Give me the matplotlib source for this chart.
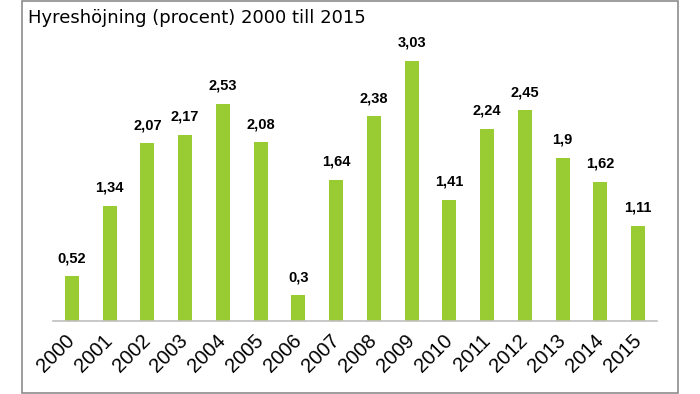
import matplotlib
matplotlib.use("Agg")
import matplotlib.pyplot as plt
from matplotlib.patches import Rectangle

years = ["2000", "2001", "2002", "2003", "2004", "2005", "2006", "2007",
         "2008", "2009", "2010", "2011", "2012", "2013", "2014", "2015"]
values = [0.52, 1.34, 2.07, 2.17, 2.53, 2.08, 0.3, 1.64,
          2.38, 3.03, 1.41, 2.24, 2.45, 1.9, 1.62, 1.11]
labels = ["0,52", "1,34", "2,07", "2,17", "2,53", "2,08", "0,3", "1,64",
          "2,38", "3,03", "1,41", "2,24", "2,45", "1,9", "1,62", "1,11"]
title = "Hyreshöjning (procent) 2000 till 2015"

W, H = 700, 394
fig = plt.figure(figsize=(W / 100, H / 100), dpi=100)

# outer frame
fig.patches.append(Rectangle((22 / W, 1 / H), (678 - 22) / W, (393 - 1) / H,
                             transform=fig.transFigure, fill=False,
                             edgecolor="#8c8c8c", linewidth=1.2))

ax = fig.add_axes([53 / W, (H - 321) / H, (657 - 53) / W, (321 - 40) / H])
x = list(range(len(years)))
ax.bar(x, values, width=0.37, color="#99cc33")
ax.set_xlim(-0.5, len(years) - 0.5)
ax.set_ylim(0, 3.27)
for s in ["top", "right", "left"]:
    ax.spines[s].set_visible(False)
ax.spines["bottom"].set_color("#bfbfbf")
ax.spines["bottom"].set_linewidth(1.2)
ax.set_yticks([])
ax.set_xticks(x)
ax.set_xticklabels(years, rotation=45, ha="right", va="center",
                   rotation_mode="anchor",
                   fontsize=14.5, family="Liberation Sans")
ax.tick_params(axis="x", length=0, pad=12)

for xi, v, lab in zip(x, values, labels):
    ax.annotate(lab, (xi, v), xytext=(0, 8), textcoords="offset points",
                ha="center", va="bottom", fontsize=10.5, fontweight="bold",
                family="Liberation Sans")

fig.text(28 / W, 1 - 18 / H, title, ha="left", va="center", fontsize=13,
         family="DejaVu Sans")

fig.savefig("out.png", dpi=100)
